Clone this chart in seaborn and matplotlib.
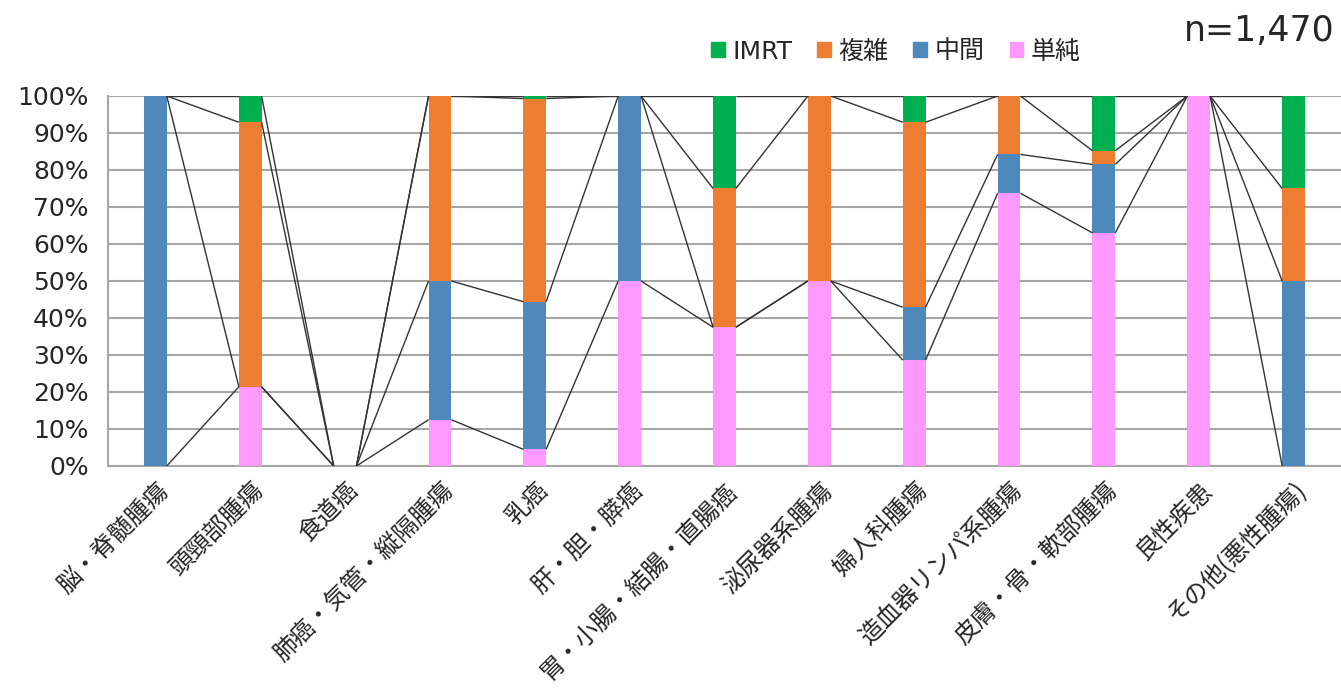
import matplotlib
matplotlib.use("Agg")
import matplotlib.pyplot as plt
import matplotlib.patches as mpatches
import seaborn as sns
import numpy as np

categories = ["脳・脊髄腫瘍", "頭頸部腫瘍", "食道癌", "肺癌・気管・縦隔腫瘍", "乳癌",
              "肝・胆・膵癌", "胃・小腸・結腸・直腸癌", "泌尿器系腫瘍", "婦人科腫瘍",
              "造血器リンパ系腫瘍", "皮膚・骨・軟部腫瘍", "良性疾患", "その他(悪性腫瘍)"]
# percentages per category (stack order bottom -> top)
simple = [0, 21.4, 0, 12.5, 4.5, 50, 37.5, 50, 28.6, 73.7, 63.0, 100, 0]
middle = [100, 0, 0, 37.5, 39.9, 50, 0, 0, 14.3, 10.5, 18.5, 0, 50]
complex_ = [0, 71.5, 0, 50, 54.9, 0, 37.5, 50, 50, 15.8, 3.7, 0, 25]
imrt = [0, 7.1, 0, 0, 0.7, 0, 25, 0, 7.1, 0, 14.8, 0, 25]

series_names = ["単純", "中間", "複雑", "IMRT"]
colors = {"単純": "#ff99ff", "中間": "#4f88bb", "複雑": "#ed7d31", "IMRT": "#00b050"}

sns.set_style("white")
plt.rcParams["font.family"] = ["DejaVu Sans", "Noto Sans CJK JP"]

fig = plt.figure(figsize=(13.41, 6.89), dpi=100)
ax = fig.add_axes([0.0805, 0.3237, 0.9195, 0.537])

values = np.array([simple, middle, complex_, imrt])
cum = np.cumsum(values, axis=0)
bar_w = 0.24

# draw cumulative totals from top series down so lower ones overlay
for k in range(3, -1, -1):
    sns.barplot(x=categories, y=cum[k], color=colors[series_names[k]], width=bar_w,
                saturation=1, linewidth=0, ax=ax, zorder=3)

# series lines connecting segment tops between adjacent bars
xs = np.arange(len(categories))
for k in range(4):
    for i in range(len(categories) - 1):
        ax.plot([xs[i] + bar_w / 2, xs[i + 1] - bar_w / 2], [cum[k][i], cum[k][i + 1]],
                color="#333333", lw=1.0, zorder=4, solid_capstyle="butt")

ax.set_xlim(-0.5, len(categories) - 0.5)
ax.set_ylim(0, 100)
ax.set_yticks(np.arange(0, 101, 10))
ax.set_yticklabels([f"{v}%" for v in range(0, 101, 10)], fontsize=18)
ax.yaxis.grid(True, color="#a6a6a6", lw=1.5, zorder=0)
ax.set_axisbelow(True)
for s in ["top", "right"]:
    ax.spines[s].set_visible(False)
ax.spines["left"].set_color("#a6a6a6")
ax.spines["bottom"].set_color("#a6a6a6")
ax.spines["left"].set_linewidth(1.5)
ax.spines["bottom"].set_linewidth(1.5)
ax.tick_params(axis="y", length=0, pad=14)
ax.tick_params(axis="x", length=0, pad=8)
ax.set_xticks(xs)
ax.set_xticklabels(categories, rotation=45, ha="right", rotation_mode="anchor", fontsize=17.5,
                   family=["Noto Sans CJK JP", "DejaVu Sans"])
ax.set_xlabel("")
ax.set_ylabel("")

handles = [mpatches.Patch(color=colors[n], label=n) for n in ["IMRT", "複雑", "中間", "単純"]]
fig.legend(handles=handles, loc="center", bbox_to_anchor=(0.668, 0.925), ncol=4, frameon=False,
           fontsize=18, handlelength=0.55, handleheight=0.55, handletextpad=0.3, columnspacing=1.0)

fig.text(0.995, 0.955, "n=1,470", ha="right", va="center", fontsize=25)

fig.savefig("out.png", dpi=100)
